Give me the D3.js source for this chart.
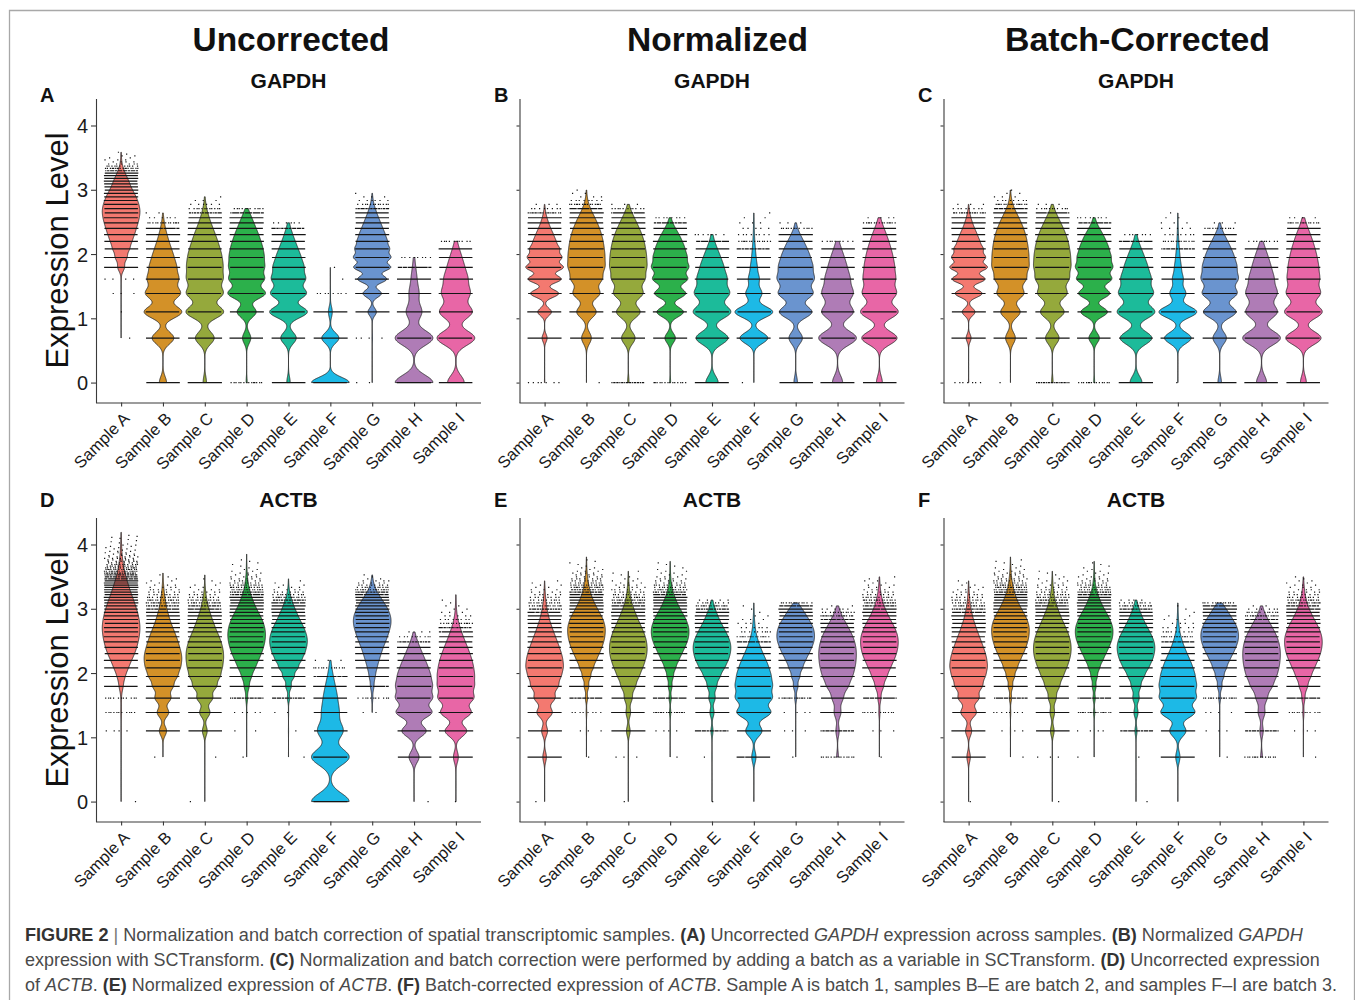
<!DOCTYPE html>
<html>
<head>
<meta charset="utf-8">
<script src="https://cdn.jsdelivr.net/npm/d3@7"></script>
<style>
  body { margin: 0; background: #fff; }
  svg { display: block; }
  text { font-family: "Liberation Sans", Arial, Helvetica, sans-serif; }
</style>
</head>
<body>
<svg id="fig" width="1355" height="1000"></svg>
<script>
// ---------------------------------------------------------------------------
// Samples, colours and number of spots per sample
// ---------------------------------------------------------------------------
const sampleNames = ["Sample A", "Sample B", "Sample C", "Sample D", "Sample E",
                     "Sample F", "Sample G", "Sample H", "Sample I"];
const sampleColors = ["#F37970", "#D39128", "#95A93C", "#2CB04B", "#1CBB9A",
                      "#1DB9E6", "#6A94CF", "#AF7CB6", "#E866A6"];
const spotsPerSample = [4000, 3000, 3000, 3000, 2500, 1500, 2000, 1500, 2000];

const yTicks = [0, 1, 2, 3, 4];
const columnTitles = ["Uncorrected", "Normalized", "Batch-Corrected"];

// Relative number of spots at each expression level.
// Index k of every row is a count of k transcripts, i.e. expression log(1 + k).
const gapdhUncorrected = [
  [0, 0.17, 0.17, 0.6, 1.0, 26, 42, 55, 63, 70, 72, 74, 73, 71, 66, 58, 51, 44, 37, 29, 24, 21, 18, 14, 11, 8, 6, 4, 2.5, 1.5, 1, 0.8, 0.5, 0.4, 0.3, 0.3],
  [48, 145, 250, 223, 180, 136, 94, 62, 38, 23, 13, 6, 2.5, 1],
  [22, 122, 242, 223, 194, 165, 135, 104, 77, 58, 40, 27, 18, 11, 6, 3, 1.5, 0.7],
  [6, 48, 110, 212, 186, 165, 141, 115, 88, 67, 48, 33, 23, 12, 4],
  [22, 100, 242, 223, 194, 156, 109, 71, 44, 25, 12, 3],
  [242, 110, 25, 2, 0.3, 0.3],
  [0.8, 2, 35, 77, 120, 149, 142, 122, 96, 75, 55, 40, 28, 18, 12, 6, 3, 1.5, 0.7],
  [250, 250, 102, 60, 30, 14, 4],
  [110, 250, 212, 170, 124, 75, 44, 22, 5]
];

const gapdhNormalized = [
  [1.2, 17, 46, 95, 111, 122, 106, 85, 58, 41, 25, 15, 8, 3.5, 1.5, 0.5],
  [0.5, 58, 115, 153, 162, 167, 142, 120, 99, 82, 64, 49, 35, 23, 13, 7, 3.5, 1.5, 0.7, 0.4],
  [9, 83, 144, 171, 175, 167, 141, 116, 94, 74, 54, 38, 25, 14, 5, 1.5],
  [5, 54, 137, 158, 171, 167, 135, 104, 75, 50, 27, 10, 3],
  [78, 202, 235, 207, 156, 105, 65, 35, 13, 3],
  [0.5, 155, 210, 88, 56, 31, 17, 10, 5.5, 3, 2, 1.2, 0.8, 0.5],
  [22, 84, 202, 207, 200, 162, 119, 81, 50, 25, 7, 1.5],
  [70, 260, 212, 195, 134, 85, 52, 26, 6],
  [39, 233, 245, 207, 170, 136, 104, 78, 55, 38, 23, 10, 3]
];

const gapdhBatchCorrected = [
  [1.2, 17, 44, 93, 113, 125, 106, 85, 58, 41, 25, 15, 8, 3.5, 1.5, 0.5],
  [0.5, 58, 115, 153, 162, 167, 142, 120, 99, 82, 64, 49, 35, 23, 13, 7, 3.5, 1.5, 0.7, 0.4],
  [9, 83, 144, 171, 175, 167, 141, 116, 94, 74, 54, 38, 25, 14, 5, 1.5],
  [5, 54, 137, 158, 171, 167, 135, 104, 75, 50, 27, 10, 3],
  [75, 200, 235, 205, 158, 105, 65, 35, 13, 3],
  [0.5, 150, 212, 88, 56, 31, 17, 10, 5.5, 3, 2, 1.2, 0.8, 0.5],
  [22, 84, 202, 207, 200, 162, 119, 81, 50, 25, 7, 1.5],
  [70, 260, 212, 195, 134, 85, 52, 26, 6],
  [39, 233, 245, 207, 170, 136, 104, 78, 55, 38, 23, 10, 3]
];

const actbUncorrected = [
  [0.3, 0.1, 1, 3, 3, 17, 29, 48, 60, 72, 74, 75, 73, 70, 67, 61, 56, 50, 46, 40, 36, 32, 29, 25, 22, 19, 17, 15, 13, 12, 10, 8.7, 7.5, 6.7, 5.8, 5, 4.4, 3.9, 3.4, 3, 2.4, 2.1, 1.8, 1.6, 1.4, 1.2, 1, 0.9, 0.8, 0.7, 0.6, 0.55, 0.5, 0.45, 0.4, 0.35, 0.3, 0.28, 0.25, 0.22, 0.2, 0.18, 0.15, 0.12, 0.1, 0.1],
  [0, 0.3, 34, 54, 72, 85, 107, 115, 110, 97, 79, 66, 54, 43, 34, 26, 21, 17, 13, 10, 8, 6.4, 5.3, 4.2, 3.2, 2.5, 2, 1.5, 1.1, 0.8, 0.6, 0.4, 0.3, 0.2, 0.15],
  [0.2, 0.4, 23, 49, 72, 99, 116, 116, 110, 100, 86, 72, 59, 46, 37, 29, 24, 18, 14, 11, 8.6, 6.4, 4.8, 3.4, 2.4, 1.7, 1.2, 0.9, 0.6, 0.4, 0.3, 0.2, 0.15, 0.1],
  [0, 0.3, 0.5, 1.5, 8, 20, 36, 56, 69, 78, 81, 80, 77, 71, 64, 56, 48, 40, 33, 26, 21, 17.5, 14, 11.3, 8.8, 6.8, 5.2, 4.3, 3.5, 2.7, 1.9, 1.5, 1.2, 1, 0.8, 0.6, 0.5, 0.4, 0.35, 0.3, 0.25, 0.2, 0.2, 0.15, 0.1, 0.1, 0.1],
  [0, 0.3, 0.5, 0.8, 8.5, 20, 39, 60, 75, 85, 86, 83, 75, 64, 54, 43, 35, 28, 22, 17.5, 13.4, 10, 7.5, 5, 3.6, 2.3, 1.5, 1, 0.6, 0.4, 0.25, 0.15],
  [210, 210, 137, 80, 54, 31, 15, 6, 1.5],
  [0, 0, 0, 1, 5, 14, 22, 31, 40, 47, 52, 58, 62, 62, 64, 62, 59, 54, 48, 41, 35, 29, 23, 18, 14, 10, 7.4, 5, 3.5, 2.4, 1.6, 1, 0.6, 0.3],
  [0.8, 59, 143, 205, 194, 170, 135, 100, 69, 47, 29, 17, 7.7, 2],
  [0.5, 28, 124, 170, 184, 165, 145, 121, 97, 76, 57, 42, 31, 21, 15, 9.3, 5.9, 3.4, 2.1, 1.5, 1, 0.7, 0.5, 0.3, 0.2]
];

const actbNormalized = [
  [0.3, 17.5, 29, 74, 95, 112, 119, 122, 104, 87, 68, 55, 42, 33, 25, 19, 14, 11, 8, 6, 4.3, 3.2, 2.6, 2.1, 1.6, 1.1, 0.8, 0.6, 0.4, 0.3, 0.2],
  [0, 0.3, 1, 2.5, 8.5, 17, 29, 44, 57, 68, 74, 76, 75, 71, 67, 59, 52, 44, 36, 29, 24, 19, 15, 12.6, 10, 7.6, 6.3, 5, 4.2, 3.4, 2.6, 2.1, 1.7, 1.4, 1.1, 0.9, 0.7, 0.55, 0.45, 0.35, 0.3, 0.25, 0.2, 0.15, 0.1],
  [0.3, 1, 18, 22, 36, 60, 80, 94, 99, 98, 90, 80, 69, 57, 47, 37, 30, 24, 19, 14, 10.6, 8.3, 6.2, 4.6, 3.6, 2.7, 2, 1.6, 1.3, 1, 0.8, 0.6, 0.45, 0.35, 0.25, 0.2],
  [0, 0.3, 1, 5, 8.5, 14, 22, 35, 50, 62, 70, 75, 75, 71, 66, 57, 49, 41, 33, 26.5, 21, 17, 13, 10.5, 8, 5.7, 4.4, 3.2, 2.5, 1.9, 1.4, 1.1, 0.9, 0.7, 0.55, 0.45, 0.35, 0.3, 0.25, 0.2, 0.15, 0.1],
  [0.2, 0.5, 9, 18, 27, 37, 58, 81, 94, 95, 90, 79, 65, 51, 40, 30, 22, 17, 12, 8, 5.3, 3.2, 1.5],
  [0.3, 25, 95, 193, 192, 170, 138, 104, 75, 50, 32, 21, 12, 7, 4.7, 3, 2, 1.3, 0.9, 0.6, 0.4, 0.25],
  [0, 0.3, 1, 1.5, 7, 17, 29, 44, 57, 70, 77, 80, 77, 70, 62, 51, 41, 32, 24, 17.5, 12, 4.6],
  [0, 10, 18, 36, 54, 94, 113, 115, 108, 100, 88, 76, 63, 50, 38, 28, 19.5, 13, 8, 4, 1.5],
  [0, 0.5, 1.5, 5.4, 13.6, 34, 55, 72, 84, 90, 88, 83, 75, 64, 54, 42, 34, 26, 20, 15, 11.5, 8.7, 6.6, 5, 3.6, 2.7, 2, 1.5, 1.2, 0.9, 0.7, 0.5, 0.3]
];

const actbBatchCorrected = [
  [0.3, 17, 30, 75, 95, 113, 121, 122, 104, 87, 68, 55, 42, 33, 25, 19, 14, 11, 8, 6, 4.3, 3.2, 2.6, 2.1, 1.6, 1.1, 0.8, 0.6, 0.4, 0.3, 0.2],
  [0, 0.3, 1, 2.5, 8.5, 17, 29, 44, 57, 68, 74, 76, 75, 71, 67, 59, 52, 44, 36, 29, 24, 19, 15, 12.6, 10, 7.6, 6.3, 5, 4.2, 3.4, 2.6, 2.1, 1.7, 1.4, 1.1, 0.9, 0.7, 0.55, 0.45, 0.35, 0.3, 0.25, 0.2, 0.15, 0.1],
  [0.3, 1, 18, 22, 36, 60, 80, 94, 99, 98, 90, 80, 69, 57, 47, 37, 30, 24, 19, 14, 10.6, 8.3, 6.2, 4.6, 3.6, 2.7, 2, 1.6, 1.3, 1, 0.8, 0.6, 0.45, 0.35, 0.25, 0.2],
  [0, 0.3, 1, 5, 8.5, 14, 22, 35, 50, 62, 70, 75, 75, 71, 66, 57, 49, 41, 33, 26.5, 21, 17, 13, 10.5, 8, 5.7, 4.4, 3.2, 2.5, 1.9, 1.4, 1.1, 0.9, 0.7, 0.55, 0.45, 0.35, 0.3, 0.25, 0.2, 0.15, 0.1],
  [0.2, 0.5, 9, 18, 27, 37, 58, 81, 94, 95, 90, 79, 65, 51, 40, 30, 22, 17, 12, 8, 5.3, 3.2, 1.5],
  [0.3, 25, 95, 193, 192, 170, 138, 104, 75, 50, 32, 21, 12, 7, 4.7, 3, 2, 1.3, 0.9, 0.6, 0.4, 0.25],
  [0, 0.3, 1, 1.5, 7, 17, 29, 44, 57, 70, 77, 80, 77, 70, 62, 51, 41, 32, 24, 17.5, 12, 4.6],
  [0, 10, 18, 36, 54, 94, 113, 115, 108, 100, 88, 76, 63, 50, 38, 28, 19.5, 13, 8, 4, 1.5],
  [0, 0.5, 1.5, 5.4, 13.6, 34, 55, 72, 84, 90, 88, 83, 75, 64, 54, 42, 34, 26, 20, 15, 11.5, 8.7, 6.6, 5, 3.6, 2.7, 2, 1.5, 1.2, 0.9, 0.7, 0.5, 0.3]
];

const captionLines = [
  [["b", "FIGURE 2"], ["s", " | "], ["n", "Normalization and batch correction of spatial transcriptomic samples. "], ["b", "(A)"], ["n", " Uncorrected "], ["i", "GAPDH"], ["n", " expression across samples. "], ["b", "(B)"], ["n", " Normalized "], ["i", "GAPDH"]],
  [["n", "expression with SCTransform. "], ["b", "(C)"], ["n", " Normalization and batch correction were performed by adding a batch as a variable in SCTransform. "], ["b", "(D)"], ["n", " Uncorrected expression"]],
  [["n", "of "], ["i", "ACTB"], ["n", ". "], ["b", "(E)"], ["n", " Normalized expression of "], ["i", "ACTB"], ["n", ". "], ["b", "(F)"], ["n", " Batch-corrected expression of "], ["i", "ACTB"], ["n", ". Sample A is batch 1, samples B\u2013E are batch 2, and samples F\u2013I are batch 3."]]
];

// ---------------------------------------------------------------------------
// Layout
// ---------------------------------------------------------------------------
const panels = [
  { id: "A", gene: "GAPDH", counts: gapdhUncorrected,    col: 0, row: 0 },
  { id: "B", gene: "GAPDH", counts: gapdhNormalized,     col: 1, row: 0 },
  { id: "C", gene: "GAPDH", counts: gapdhBatchCorrected, col: 2, row: 0 },
  { id: "D", gene: "ACTB",  counts: actbUncorrected,     col: 0, row: 1 },
  { id: "E", gene: "ACTB",  counts: actbNormalized,      col: 1, row: 1 },
  { id: "F", gene: "ACTB",  counts: actbBatchCorrected,  col: 2, row: 1 }
];
const colLeft = [96, 519.5, 943.5];
const plotW = 385;
const rowTop = [98.5, 517.5];
const plotH = 304;
const letterX = [40, 494, 918];
const yDomain = [-0.31, 4.42];
const titleCenters = [291, 717.5, 1137.5];
const titleWidths = [197, 181, 265];

const svg = d3.select("#fig");

// Figure frame
svg.append("path")
  .attr("d", "M9.5,1000 V10.5 H1354.5 V1000")
  .attr("fill", "none")
  .attr("stroke", "#a8a8a8")
  .attr("stroke-width", 1.3);

// Scale a text element horizontally so that it spans the given width
function fitWidth(sel, x, y, width) {
  const w = sel.node().getComputedTextLength();
  sel.attr("transform", `translate(${x},${y}) scale(${width / w},1)`);
}

// Column headers
columnTitles.forEach((t, i) => {
  const el = svg.append("text")
    .attr("text-anchor", "middle")
    .attr("font-weight", "bold")
    .attr("font-size", 33)
    .attr("fill", "#111")
    .text(t);
  fitWidth(el, titleCenters[i], 51, titleWidths[i]);
});

// Gaussian kernel density of one sample's spots over the expression levels,
// bandwidth by Silverman's rule (bw.nrd0), trimmed to the data range.
function violinProfile(weights, n) {
  const levels = [];
  weights.forEach((w, k) => { if (w > 0) levels.push({ k, y: Math.log1p(k), w }); });
  const tot = d3.sum(levels, d => d.w);
  levels.forEach(d => { d.p = d.w / tot; });
  const mean = d3.sum(levels, d => d.p * d.y);
  const sd = Math.sqrt(d3.sum(levels, d => d.p * (d.y - mean) ** 2) * n / (n - 1));
  const quant = q => {
    let c = 0;
    for (const d of levels) { c += d.p; if (c >= q) return d.y; }
    return levels[levels.length - 1].y;
  };
  const iqr = quant(0.75) - quant(0.25);
  let lo = Math.min(sd, iqr / 1.34);
  if (!(lo > 0)) lo = sd || 1;
  const h = 0.9 * lo * Math.pow(n, -0.2);
  const y0 = levels[0].y, y1 = levels[levels.length - 1].y;
  const m = 400;
  const pts = d3.range(m + 1).map(i => {
    const y = y0 + (y1 - y0) * i / m;
    const f = d3.sum(levels, d => d.p * Math.exp(-0.5 * ((y - d.y) / h) ** 2));
    return { y, f };
  });
  const fmax = d3.max(pts, d => d.f);
  pts.forEach(d => { d.r = d.f / fmax; });
  return { pts, levels };
}

const frac = v => v - Math.floor(v);
const PHI = 0.6180339887;

panels.forEach((panel, pi) => {
  const left = colLeft[panel.col];
  const top = rowTop[panel.row];
  const g = svg.append("g");

  const x = d3.scalePoint().domain(sampleNames).range([left, left + plotW]).padding(0.6);
  const y = d3.scaleLinear().domain(yDomain).range([top + plotH, top]);
  const step = x.step();
  const halfW = 0.45 * step;
  const jitter = 0.4 * step;

  // Violins
  const profiles = panel.counts.map((w, j) => violinProfile(w, spotsPerSample[j]));
  profiles.forEach((prof, j) => {
    const cx = x(sampleNames[j]);
    const area = d3.area()
      .y(d => y(d.y))
      .x0(d => cx - d.r * halfW)
      .x1(d => cx + d.r * halfW);
    g.append("path")
      .attr("d", area(prof.pts))
      .attr("fill", sampleColors[j])
      .attr("stroke", "#1e1e1e")
      .attr("stroke-width", 0.8)
      .attr("stroke-linejoin", "round");
  });

  // Jittered spots (one mark per spot, level by level)
  profiles.forEach((prof, j) => {
    const cx = x(sampleNames[j]);
    const n = spotsPerSample[j];
    const path = d3.path();
    prof.levels.forEach(lv => {
      const cnt = Math.min(Math.round(lv.p * n), 40);
      const seed = frac(lv.k * 0.7548776662 + j * 0.5698402910 + pi * 0.31);
      const py = y(lv.y);
      for (let i = 0; i < cnt; i++) {
        const u = frac(seed + i * PHI);
        const px = cx + (u * 2 - 1) * jitter;
        path.rect(px - 0.6, py - 0.6, 1.2, 1.2);
      }
    });
    g.append("path").attr("d", path.toString()).attr("fill", "#151515");
  });

  // Axes
  const yAxis = d3.axisLeft(y)
    .tickValues(yTicks)
    .tickSize(panel.col === 0 ? 5 : 3)
    .tickSizeOuter(0)
    .tickFormat(panel.col === 0 ? d3.format("d") : () => "");
  const ya = g.append("g").attr("transform", `translate(${left},0)`).call(yAxis);
  ya.select(".domain").attr("stroke", "#3a3a3a").attr("stroke-width", 1.1);
  ya.selectAll(".tick line").attr("stroke", "#3a3a3a").attr("stroke-width", 1.1);
  ya.selectAll(".tick text")
    .attr("font-size", 20).attr("fill", "#1a1a1a")
    .attr("font-family", "Liberation Sans, Arial, sans-serif")
    .attr("x", -8).attr("dy", "0.36em");

  const xAxis = d3.axisBottom(x).tickSize(4).tickSizeOuter(0);
  const xa = g.append("g").attr("transform", `translate(0,${top + plotH})`).call(xAxis);
  xa.select(".domain").attr("stroke", "#3a3a3a").attr("stroke-width", 1.1)
    .attr("d", `M${left},0.5H${left + plotW}`);
  xa.selectAll(".tick line").attr("stroke", "#3a3a3a").attr("stroke-width", 1.1);
  xa.selectAll(".tick text")
    .attr("font-size", 16.5).attr("fill", "#1a1a1a")
    .attr("font-family", "Liberation Sans, Arial, sans-serif")
    .attr("x", 0).attr("y", 0).attr("dy", 0)
    .attr("text-anchor", "end")
    .attr("transform", "translate(9,17) rotate(-45)");

  // Y title on the first column
  if (panel.col === 0) {
    svg.append("text")
      .attr("transform", `translate(68,${top + plotH / 2}) rotate(-90)`)
      .attr("text-anchor", "middle")
      .attr("font-size", 31)
      .attr("fill", "#111")
      .text("Expression Level");
  }

  // Gene title and panel letter
  svg.append("text")
    .attr("x", left + plotW / 2)
    .attr("y", panel.row === 0 ? 88 : 507)
    .attr("text-anchor", "middle")
    .attr("font-weight", "bold")
    .attr("font-size", 21)
    .attr("fill", "#111")
    .text(panel.gene);
  svg.append("text")
    .attr("x", letterX[panel.col])
    .attr("y", panel.row === 0 ? 101.5 : 507)
    .attr("font-weight", "bold")
    .attr("font-size", 20)
    .attr("fill", "#111")
    .text(panel.id);
});

// Caption
const captionWidths = [1278, 1295, 1313];
captionLines.forEach((segs, li) => {
  const t = svg.append("text").attr("font-size", 17.5).attr("fill", "#4a4a4a");
  segs.forEach(([kind, str]) => {
    const ts = t.append("tspan").text(str);
    if (kind === "b") ts.attr("font-weight", "bold").attr("fill", "#333");
    if (kind === "i") ts.attr("font-style", "italic");
    if (kind === "s") ts.attr("fill", "#777");
  });
  t.attr("xml:space", "preserve").style("white-space", "pre");
  fitWidth(t, 25, 941 + li * 25, captionWidths[li]);
});
</script>
</body>
</html>
